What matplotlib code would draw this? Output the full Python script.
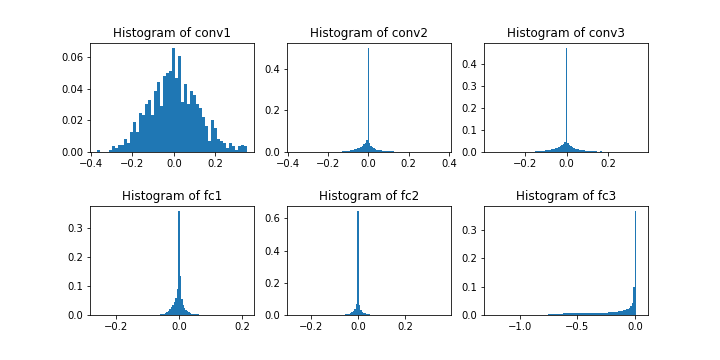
import numpy as np
import matplotlib
matplotlib.use("Agg")
import matplotlib.pyplot as plt

# fraction of weights per bin
layer_names = ["conv1", "conv2", "conv3", "fc1", "fc2", "fc3"]

# conv1: 50 bins
conv1_range = (-0.369, 0.351)
conv1_nbins = 50
conv1_first = 0
conv1_heights = [
    0.0013, 0, 0, 0, 0.0013, 0.0038, 0.0025, 0.0042, 0.0042, 0.008,
    0.0057, 0.0126, 0.019, 0.0126, 0.0245, 0.0233, 0.030, 0.0327, 0.0233, 0.0384,
    0.044, 0.029, 0.048, 0.050, 0.051, 0.0655, 0.0466, 0.0604, 0.0315, 0.043,
    0.030, 0.0384, 0.0359, 0.030, 0.0277, 0.022, 0.0164, 0.0069, 0.020, 0.015,
    0.008, 0.0069, 0.0057, 0.0025, 0.0057, 0.0038, 0.0013, 0.0038, 0.0044, 0.0038,
]

# conv2: 100 bins, spike at bin 49
conv2_range = (-0.368, 0.373)
conv2_nbins = 100
conv2_first = 31
conv2_heights = [
    0.002, 0.003, 0.003, 0.004, 0.005, 0.006, 0.007, 0.008, 0.010, 0.012,
    0.014, 0.017, 0.021, 0.025, 0.030, 0.036, 0.045, 0.058,
    0.497,
    0.045, 0.030, 0.022, 0.017, 0.014, 0.011, 0.009, 0.008, 0.007, 0.006,
    0.005, 0.005, 0.004, 0.004, 0.003, 0.003, 0.003, 0.002, 0, 0, 0.002,
]

# conv3: 100 bins, spike at bin 50
conv3_range = (-0.362, 0.356)
conv3_nbins = 100
conv3_first = 29
conv3_heights = [
    0.003, 0.003, 0.004, 0.004, 0.005, 0.005, 0.006, 0.007, 0.008, 0.009,
    0.010, 0.012, 0.013, 0.015, 0.017, 0.019, 0.022, 0.026, 0.030, 0.036, 0.043,
    0.469,
    0.040, 0.033, 0.027, 0.022, 0.018, 0.015, 0.013, 0.011, 0.010, 0.009,
    0.008, 0.007, 0.006, 0.005, 0.005, 0.004, 0.004, 0.003, 0.003, 0.002, 0, 0, 0.002,
]

# fc1: 100 bins, spike at bin 54
fc1_range = (-0.258, 0.215)
fc1_nbins = 100
fc1_first = 42
fc1_heights = [
    0.002, 0.003, 0.005, 0.008, 0.011, 0.015, 0.020, 0.027, 0.035, 0.045, 0.060, 0.090,
    0.358,
    0.135, 0.055, 0.035, 0.025, 0.018, 0.013, 0.009, 0.007, 0.005, 0.004,
    0.003, 0.002, 0.002, 0.001,
]

# fc2: 100 bins, spike at bin 42
fc2_range = (-0.270, 0.364)
fc2_nbins = 100
fc2_first = 33
fc2_heights = [
    0.003, 0.004, 0.006, 0.008, 0.012, 0.018, 0.025, 0.035, 0.070,
    0.643,
    0.060, 0.030, 0.020, 0.014, 0.010, 0.007, 0.005, 0.004, 0.003, 0.003,
]

# fc3: 100 bins, spike at bin 96
fc3_range = (-1.245, 0.048)
fc3_nbins = 100
fc3_first = 38
fc3_heights = (
    [0.003] * 10
    + [0.007, 0.007, 0.007, 0.007, 0.007, 0.007, 0.007, 0.007, 0.007, 0.007,
       0.007, 0.007, 0.007, 0.007, 0.0075, 0.0075, 0.0075, 0.0075, 0.0075, 0.0075,
       0.008, 0.008, 0.008, 0.008, 0.008, 0.008, 0.008, 0.0085, 0.0085, 0.0085,
       0.009, 0.009, 0.009]
    + [0.010, 0.010, 0.011, 0.012, 0.013, 0.014, 0.015, 0.016]
    + [0.018, 0.020, 0.022, 0.026, 0.030, 0.042, 0.100]
    + [0.365]
)

layers = [
    (conv1_range, conv1_nbins, conv1_first, conv1_heights),
    (conv2_range, conv2_nbins, conv2_first, conv2_heights),
    (conv3_range, conv3_nbins, conv3_first, conv3_heights),
    (fc1_range, fc1_nbins, fc1_first, fc1_heights),
    (fc2_range, fc2_nbins, fc2_first, fc2_heights),
    (fc3_range, fc3_nbins, fc3_first, fc3_heights),
]

fig, axes = plt.subplots(2, 3, figsize=(10, 5), dpi=72)
plt.subplots_adjust(left=0.125, right=0.9, top=0.88, bottom=0.125, wspace=0.2, hspace=0.5)

for ax, name, (rng, nbins, first, heights) in zip(axes.flat, layer_names, layers):
    edges = np.linspace(rng[0], rng[1], nbins + 1)
    centers = (edges[:-1] + edges[1:]) / 2
    w = np.zeros(nbins)
    w[first:first + len(heights)] = heights
    ax.hist(centers, bins=edges, weights=w)
    ax.set_title("Histogram of " + name)

plt.savefig("out.png", dpi=72)
